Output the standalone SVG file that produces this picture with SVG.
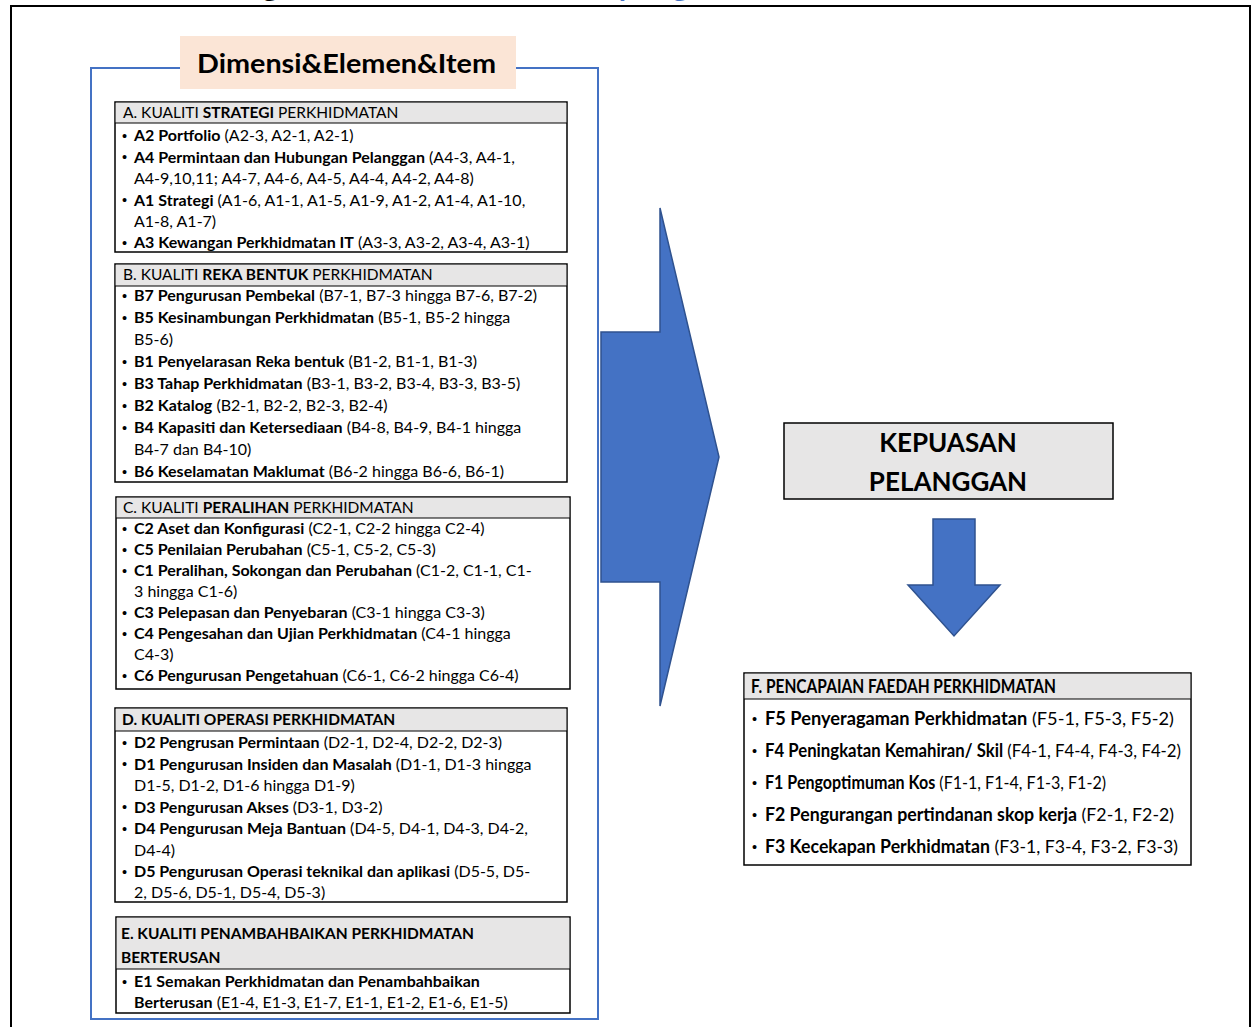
<svg xmlns="http://www.w3.org/2000/svg" width="1255" height="1027" viewBox="0 0 1255 1027">
  <style>
    .t { font-family: Lato, "Liberation Sans", sans-serif; font-size: 16px; fill: #000; }
    .h { font-family: Lato, "Liberation Sans", sans-serif; font-size: 15.5px; fill: #000; }
    .b { font-weight: 700; }
    .dot { font-family: "Liberation Sans", sans-serif; font-size: 14.5px; fill: #000; }
    .box { fill: #fff; stroke: #000; stroke-width: 1.5; }
    .hdr { fill: #E7E6E6; }
    .sep { stroke: #000; stroke-width: 1; }
    .ft { font-family: Lato, "Liberation Sans", sans-serif; font-size: 18px; fill: #000; }
    .arrow { fill: #4472C4; stroke: #2F528F; stroke-width: 1.5; stroke-linejoin: miter; }
  </style>

  <rect width="1255" height="1027" fill="#fff"/>

  <!-- title line running off the top edge -->
  <g id="title-fragments" font-family="Lato, 'Liberation Sans', sans-serif" font-weight="700" font-size="30">
    <text x="262" y="-4" fill="#000">g</text>
    <text x="617" y="-4" fill="#4472C4">y</text>
    <text x="672" y="-4" fill="#4472C4">g</text>
  </g>

  <!-- page frame -->
  <path id="frame" d="M11,1027 V6 H1250 V1027" fill="none" stroke="#000" stroke-width="2"/>

  <!-- container of dimensions -->
  <g id="dimensions-panel">
    <rect x="91" y="68" width="507" height="951" fill="none" stroke="#4472C4" stroke-width="2"/>
    <rect x="180" y="36" width="336" height="53" fill="#FBE5D6"/>
    <text x="197" y="73" textLength="299" lengthAdjust="spacingAndGlyphs" font-family="Lato, 'Liberation Sans', sans-serif" font-weight="700" font-size="26" fill="#000">Dimensi&amp;Elemen&amp;Item</text>
  </g>

  <!-- A -->
  <g id="box-a">
    <rect class="box" x="115" y="102" width="452" height="150"/>
    <rect class="hdr" x="115.75" y="102.75" width="450.5" height="20.25"/>
    <line class="sep" x1="115" y1="123" x2="567" y2="123"/>
    <text class="h" x="123" y="117.5">A. KUALITI <tspan class="b">STRATEGI</tspan> PERKHIDMATAN</text>
    <text class="dot" x="122" y="140.5">•</text><text class="t" x="134" y="141"><tspan class="b">A2 Portfolio</tspan> (A2-3, A2-1, A2-1)</text>
    <text class="dot" x="122" y="162">•</text><text class="t" x="134" y="162.5"><tspan class="b">A4 Permintaan dan Hubungan Pelanggan</tspan> (A4-3, A4-1,</text>
    <text class="t" x="134" y="184">A4-9,10,11; A4-7, A4-6, A4-5, A4-4, A4-2, A4-8)</text>
    <text class="dot" x="122" y="205">•</text><text class="t" x="134" y="205.5"><tspan class="b">A1 Strategi</tspan> (A1-6, A1-1, A1-5, A1-9, A1-2, A1-4, A1-10,</text>
    <text class="t" x="134" y="227">A1-8, A1-7)</text>
    <text class="dot" x="122" y="247.5">•</text><text class="t" x="134" y="248"><tspan class="b">A3 Kewangan Perkhidmatan IT</tspan> (A3-3, A3-2, A3-4, A3-1)</text>
  </g>

  <!-- B -->
  <g id="box-b">
    <rect class="box" x="115" y="264" width="452" height="218"/>
    <rect class="hdr" x="115.75" y="264.75" width="450.5" height="21.25"/>
    <line class="sep" x1="115" y1="286" x2="567" y2="286"/>
    <text class="h" x="123" y="279.5">B. KUALITI <tspan class="b">REKA BENTUK</tspan> PERKHIDMATAN</text>
    <text class="dot" x="122" y="300.5">•</text><text class="t" x="134" y="301"><tspan class="b">B7 Pengurusan Pembekal</tspan> (B7-1, B7-3 hingga B7-6, B7-2)</text>
    <text class="dot" x="122" y="322.5">•</text><text class="t" x="134" y="323"><tspan class="b">B5 Kesinambungan Perkhidmatan</tspan> (B5-1, B5-2 hingga</text>
    <text class="t" x="134" y="345">B5-6)</text>
    <text class="dot" x="122" y="366.5">•</text><text class="t" x="134" y="367"><tspan class="b">B1 Penyelarasan Reka bentuk</tspan> (B1-2, B1-1, B1-3)</text>
    <text class="dot" x="122" y="388.5">•</text><text class="t" x="134" y="389"><tspan class="b">B3 Tahap Perkhidmatan</tspan> (B3-1, B3-2, B3-4, B3-3, B3-5)</text>
    <text class="dot" x="122" y="410.5">•</text><text class="t" x="134" y="411"><tspan class="b">B2 Katalog</tspan> (B2-1, B2-2, B2-3, B2-4)</text>
    <text class="dot" x="122" y="432.5">•</text><text class="t" x="134" y="433"><tspan class="b">B4 Kapasiti dan Ketersediaan</tspan> (B4-8, B4-9, B4-1 hingga</text>
    <text class="t" x="134" y="455">B4-7 dan B4-10)</text>
    <text class="dot" x="122" y="476.5">•</text><text class="t" x="134" y="477"><tspan class="b">B6 Keselamatan Maklumat</tspan> (B6-2 hingga B6-6, B6-1)</text>
  </g>

  <!-- C -->
  <g id="box-c">
    <rect class="box" x="116" y="497" width="454" height="192"/>
    <rect class="hdr" x="116.75" y="497.75" width="452.5" height="20.25"/>
    <line class="sep" x1="116" y1="518" x2="570" y2="518"/>
    <text class="h" x="123" y="513">C. KUALITI <tspan class="b">PERALIHAN</tspan> PERKHIDMATAN</text>
    <text class="dot" x="122" y="533.5">•</text><text class="t" x="134" y="534"><tspan class="b">C2 Aset dan Konfigurasi</tspan> (C2-1, C2-2 hingga C2-4)</text>
    <text class="dot" x="122" y="554.5">•</text><text class="t" x="134" y="555"><tspan class="b">C5 Penilaian Perubahan</tspan> (C5-1, C5-2, C5-3)</text>
    <text class="dot" x="122" y="575.5">•</text><text class="t" x="134" y="576"><tspan class="b">C1 Peralihan, Sokongan dan Perubahan</tspan> (C1-2, C1-1, C1-</text>
    <text class="t" x="134" y="597">3 hingga C1-6)</text>
    <text class="dot" x="122" y="617.5">•</text><text class="t" x="134" y="618"><tspan class="b">C3 Pelepasan dan Penyebaran</tspan> (C3-1 hingga C3-3)</text>
    <text class="dot" x="122" y="638.5">•</text><text class="t" x="134" y="639"><tspan class="b">C4 Pengesahan dan Ujian Perkhidmatan</tspan> (C4-1 hingga</text>
    <text class="t" x="134" y="660">C4-3)</text>
    <text class="dot" x="122" y="680.5">•</text><text class="t" x="134" y="681"><tspan class="b">C6 Pengurusan Pengetahuan</tspan> (C6-1, C6-2 hingga C6-4)</text>
  </g>

  <!-- D -->
  <g id="box-d">
    <rect class="box" x="115" y="708" width="452" height="194"/>
    <rect class="hdr" x="115.75" y="708.75" width="450.5" height="22.25"/>
    <line class="sep" x1="115" y1="731" x2="567" y2="731"/>
    <text class="h b" x="122" y="725">D. KUALITI OPERASI PERKHIDMATAN</text>
    <text class="dot" x="122" y="747.5">•</text><text class="t" x="134" y="748"><tspan class="b">D2 Pengrusan Permintaan</tspan> (D2-1, D2-4, D2-2, D2-3)</text>
    <text class="dot" x="122" y="769">•</text><text class="t" x="134" y="769.5"><tspan class="b">D1 Pengurusan Insiden dan Masalah</tspan> (D1-1, D1-3 hingga</text>
    <text class="t" x="134" y="791">D1-5, D1-2, D1-6 hingga D1-9)</text>
    <text class="dot" x="122" y="812">•</text><text class="t" x="134" y="812.5"><tspan class="b">D3 Pengurusan Akses</tspan> (D3-1, D3-2)</text>
    <text class="dot" x="122" y="833.5">•</text><text class="t" x="134" y="834"><tspan class="b">D4 Pengurusan Meja Bantuan</tspan> (D4-5, D4-1, D4-3, D4-2,</text>
    <text class="t" x="134" y="855.5">D4-4)</text>
    <text class="dot" x="122" y="876.5">•</text><text class="t" x="134" y="877"><tspan class="b">D5 Pengurusan Operasi teknikal dan aplikasi</tspan> (D5-5, D5-</text>
    <text class="t" x="134" y="898">2, D5-6, D5-1, D5-4, D5-3)</text>
  </g>

  <!-- E -->
  <g id="box-e">
    <rect class="box" x="116" y="917" width="454" height="96"/>
    <rect class="hdr" x="116.75" y="917.75" width="452.5" height="51.25"/>
    <line class="sep" x1="116" y1="969" x2="570" y2="969"/>
    <text class="h b" x="121" y="938.5">E. KUALITI PENAMBAHBAIKAN PERKHIDMATAN</text>
    <text class="h b" x="121" y="963">BERTERUSAN</text>
    <text class="dot" x="122" y="986.5">•</text><text class="t b" x="134" y="987">E1 Semakan Perkhidmatan dan Penambahbaikan</text>
    <text class="t" x="134" y="1007.5"><tspan class="b">Berterusan</tspan> (E1-4, E1-3, E1-7, E1-1, E1-2, E1-6, E1-5)</text>
  </g>

  <!-- arrows -->
  <g id="connectors">
    <polygon class="arrow" points="601,332 660,332 660,208 719,457 660,706 660,582 601,582"/>
    <polygon class="arrow" points="933,519 975,519 975,585 1000,585 954,636 908,585 933,585"/>
  </g>

  <!-- outcome -->
  <g id="kepuasan">
    <rect x="784" y="423" width="329" height="76" fill="#E7E6E6" stroke="#000" stroke-width="1.5"/>
    <text x="948" y="452" text-anchor="middle" font-family="Lato, 'Liberation Sans', sans-serif" font-weight="700" font-size="26" fill="#000">KEPUASAN</text>
    <text x="948" y="491" text-anchor="middle" font-family="Lato, 'Liberation Sans', sans-serif" font-weight="700" font-size="26" fill="#000">PELANGGAN</text>
  </g>

  <!-- F -->
  <g id="box-f">
    <rect class="box" x="744" y="673" width="447" height="192"/>
    <rect class="hdr" x="744.75" y="673.75" width="445.5" height="25.25"/>
    <line class="sep" x1="744" y1="699" x2="1191" y2="699"/>
    <text class="ft b" x="751" y="692.5" textLength="305" lengthAdjust="spacingAndGlyphs">F. PENCAPAIAN FAEDAH PERKHIDMATAN</text>
    <text class="dot" x="752" y="723.5">•</text><text class="ft" x="765" y="724.5" textLength="409" lengthAdjust="spacingAndGlyphs"><tspan class="b">F5 Penyeragaman Perkhidmatan</tspan> (F5-1, F5-3, F5-2)</text>
    <text class="dot" x="752" y="755.5">•</text><text class="ft" x="765" y="756.5" textLength="416" lengthAdjust="spacingAndGlyphs"><tspan class="b">F4 Peningkatan Kemahiran/ Skil</tspan> (F4-1, F4-4, F4-3, F4-2)</text>
    <text class="dot" x="752" y="787.5">•</text><text class="ft" x="765" y="788.5" textLength="341" lengthAdjust="spacingAndGlyphs"><tspan class="b">F1 Pengoptimuman Kos</tspan> (F1-1, F1-4, F1-3, F1-2)</text>
    <text class="dot" x="752" y="819.5">•</text><text class="ft" x="765" y="820.5" textLength="409" lengthAdjust="spacingAndGlyphs"><tspan class="b">F2 Pengurangan pertindanan skop kerja</tspan> (F2-1, F2-2)</text>
    <text class="dot" x="752" y="851.5">•</text><text class="ft" x="765" y="852.5" textLength="413" lengthAdjust="spacingAndGlyphs"><tspan class="b">F3 Kecekapan Perkhidmatan</tspan> (F3-1, F3-4, F3-2, F3-3)</text>
  </g>
</svg>
